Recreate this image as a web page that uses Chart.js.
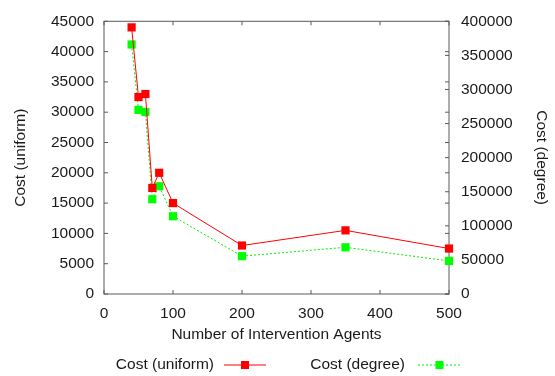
<!DOCTYPE html>
<html>
<head>
<meta charset="utf-8">
<script src="https://cdn.jsdelivr.net/npm/chart.js@4/dist/chart.umd.min.js"></script>
<style>
  html, body { margin: 0; padding: 0; background: #fff; }
</style>
</head>
<body>
<canvas id="chart" width="555" height="376"></canvas>
<script>
const agents = [40, 50, 60, 70, 80, 100, 200, 350, 500];
const costUniform = [44000, 32500, 33000, 17500, 20000, 15000, 8000, 10500, 7500];
const costDegree = [366000, 270000, 267000, 139000, 158000, 114000, 55500, 68500, 48500];
const seriesLabels = ['Cost (uniform)', 'Cost (degree)'];

const FONT = '"Liberation Sans", Arial, sans-serif';
const FSIZE = 15.5;
const TEXT = '#1a1a1a';
const AXIS = '#5a5a5a';

// gnuplot style frame: full box, inward ticks, y ticks mirrored, y2 not mirrored
const frame = {
  id: 'frame',
  beforeDatasetsDraw(chart) {
    const {ctx, chartArea: a, scales} = chart;
    const len = 4;
    ctx.save();
    ctx.strokeStyle = AXIS;
    ctx.lineWidth = 1;
    ctx.strokeRect(a.left, a.top, a.right - a.left, a.bottom - a.top);
    ctx.beginPath();
    scales.x.ticks.forEach(t => {
      const px = scales.x.getPixelForValue(t.value);
      ctx.moveTo(px, a.bottom); ctx.lineTo(px, a.bottom - len);
      ctx.moveTo(px, a.top); ctx.lineTo(px, a.top + len);
    });
    scales.y.ticks.forEach(t => {
      const py = scales.y.getPixelForValue(t.value);
      ctx.moveTo(a.left, py); ctx.lineTo(a.left + len, py);
      ctx.moveTo(a.right, py); ctx.lineTo(a.right - len, py);
    });
    scales.y2.ticks.forEach(t => {
      const py = scales.y2.getPixelForValue(t.value);
      ctx.moveTo(a.right, py); ctx.lineTo(a.right - len, py);
    });
    ctx.stroke();
    ctx.restore();
  }
};

// legend below the plot: text first, then the line sample with a marker
const keyBox = {
  id: 'keyBox',
  afterDraw(chart) {
    const {ctx} = chart;
    const slots = [{textEnd: 214, x0: 224, x1: 266}, {textEnd: 405, x0: 418, x1: 461}];
    const y = 365;
    ctx.save();
    ctx.font = FSIZE + 'px ' + FONT;
    ctx.textBaseline = 'middle';
    ctx.textAlign = 'right';
    chart.data.datasets.forEach((ds, i) => {
      const s = slots[i];
      ctx.fillStyle = TEXT;
      ctx.fillText(ds.label, s.textEnd, y);
      ctx.strokeStyle = ds.borderColor;
      ctx.lineWidth = 1;
      ctx.setLineDash(ds.borderDash || []);
      ctx.beginPath();
      ctx.moveTo(s.x0, y); ctx.lineTo(s.x1, y);
      ctx.stroke();
      ctx.setLineDash([]);
      ctx.fillStyle = ds.backgroundColor;
      const m = (s.x0 + s.x1) / 2;
      ctx.fillRect(m - 4, y - 4, 8, 8);
    });
    ctx.restore();
  }
};

Chart.defaults.font.family = FONT;
Chart.defaults.font.size = FSIZE;
Chart.defaults.color = TEXT;

const plain = v => String(v);

new Chart(document.getElementById('chart'), {
  type: 'line',
  data: {
    datasets: [
      {
        label: seriesLabels[0],
        data: agents.map((a, i) => ({x: a, y: costUniform[i]})),
        yAxisID: 'y',
        borderColor: '#ff0000',
        backgroundColor: '#ff0000',
        borderWidth: 1,
        pointStyle: 'rect',
        pointRadius: 5.8,
        pointBorderWidth: 0,
        tension: 0,
        clip: false
      },
      {
        label: seriesLabels[1],
        data: agents.map((a, i) => ({x: a, y: costDegree[i]})),
        yAxisID: 'y2',
        borderColor: '#00ee00',
        backgroundColor: '#00ff00',
        borderWidth: 1,
        borderDash: [2, 2],
        pointStyle: 'rect',
        pointRadius: 5.8,
        pointBorderWidth: 0,
        tension: 0,
        clip: false
      }
    ]
  },
  options: {
    responsive: false,
    animation: false,
    layout: {padding: {left: 0, right: 0, top: 15, bottom: 31}},
    plugins: {legend: {display: false}, tooltip: {enabled: false}},
    scales: {
      x: {
        type: 'linear',
        min: 0, max: 500,
        grid: {display: false, drawTicks: false},
        border: {display: false},
        ticks: {stepSize: 100, padding: 10, maxRotation: 0, callback: plain},
        title: {display: true, text: 'Number of Intervention Agents', padding: {top: 0, bottom: 1}},
        afterFit(s) { s.height = 51; }
      },
      y: {
        position: 'left',
        min: 0, max: 45000,
        grid: {display: false, drawTicks: false},
        border: {display: false},
        ticks: {stepSize: 5000, padding: 10, callback: plain},
        title: {display: true, text: 'Cost (uniform)', padding: {top: 11, bottom: 0}},
        afterFit(s) { s.width = 104; }
      },
      y2: {
        position: 'right',
        min: 0, max: 400000,
        grid: {display: false, drawTicks: false},
        border: {display: false},
        ticks: {stepSize: 50000, padding: 12, callback: plain},
        title: {display: true, text: 'Cost (degree)', padding: {top: 4, bottom: 0}},
        afterFit(s) { s.width = 106; }
      }
    }
  },
  plugins: [frame, keyBox]
});
</script>
</body>
</html>
